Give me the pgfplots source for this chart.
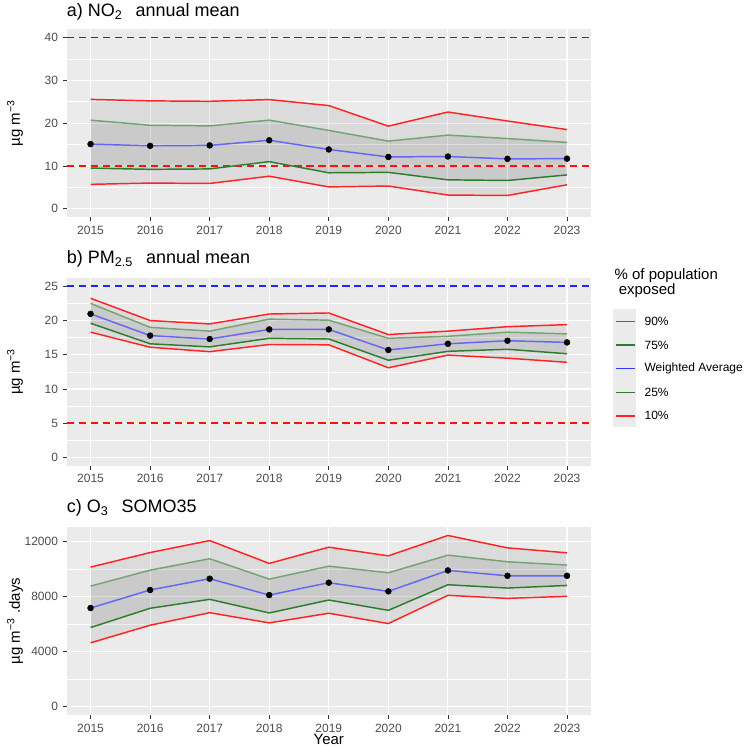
\documentclass[border=0pt]{standalone}
\usepackage{fontspec}
\setmainfont{Liberation Sans}
\usepackage{pgfplots}
\pgfplotsset{compat=1.18}
\usepackage{pgfplotstable}
\usepgfplotslibrary{fillbetween}

\definecolor{gg92}{HTML}{EBEBEB}
\definecolor{tickc}{HTML}{333333}
\definecolor{labc}{HTML}{4D4D4D}
\definecolor{pred}{HTML}{FF2424}
\definecolor{pgreenlt}{HTML}{74A474}
\definecolor{pgreen}{HTML}{2E7D2E}
\definecolor{pblue}{HTML}{6666F4}
\definecolor{keyblue}{HTML}{3A3AFF}
\definecolor{hblue}{HTML}{2323FF}
\definecolor{hred}{HTML}{FF1010}

% percentiles of population exposure: year, 10%, 25%, weighted average, 75%, 90%
\pgfplotstableread{
year p10  p25  wa    p75   p90
2015 5.7  9.5  15.1  20.7  25.55
2016 6.0  9.2  14.7  19.5  25.2
2017 5.9  9.3  14.8  19.35 25.1
2018 7.6  11.0 16.0  20.7  25.5
2019 5.1  8.4  13.85 18.3  24.1
2020 5.3  8.5  12.1  15.8  19.3
2021 3.2  6.75 12.2  17.2  22.6
2022 3.1  6.6  11.65 16.4  20.5
2023 5.6  7.9  11.7  15.5  18.5
}\NOtwo

\pgfplotstableread{
year p10   p25   wa    p75   p90
2015 18.3  19.6  20.97 22.5  23.25
2016 16.1  16.6  17.8  19.0  20.0
2017 15.45 16.15 17.3  18.45 19.5
2018 16.5  17.4  18.7  20.2  20.95
2019 16.45 17.3  18.7  20.05 21.1
2020 13.1  14.2  15.7  17.4  17.95
2021 14.95 15.5  16.6  17.7  18.45
2022 14.5  15.8  17.05 18.3  19.1
2023 13.9  15.15 16.8  18.05 19.4
}\PMtwofive

\pgfplotstableread{
year p10  p25  wa   p75   p90
2015 4640 5750 7170 8760  10140
2016 5920 7150 8480 9920  11200
2017 6830 7800 9300 10750 12070
2018 6090 6810 8110 9270  10410
2019 6790 7750 9010 10210 11590
2020 6040 7000 8380 9730  10960
2021 8090 8860 9900 11010 12440
2022 7870 8620 9510 10530 11540
2023 8020 8810 9510 10290 11180
}\Othree

\pgfplotsset{
  ggpanel/.style={
    scale only axis, width=393.5pt, height=141.4pt,
    anchor=north west,
    xmin=2014.6, xmax=2023.4,
    xtick={2015,2016,...,2023},
    minor x tick num=1, minor y tick num=1,
    grid=both,
    major grid style={white, line width=0.8pt},
    minor grid style={white, line width=0.4pt},
    axis background/.style={fill=gg92},
    axis line style={draw=none},
    tick align=outside, xtick pos=left, ytick pos=left,
    major tick length=2.8pt, minor tick length=0pt,
    every tick/.style={color=tickc, line width=0.6pt},
    tick label style={font=\fontsize{9}{10}\selectfont, color=labc, inner sep=0pt},
    xticklabel style={yshift=-3.35pt},
    yticklabel style={xshift=-3.6pt},
    scaled y ticks=false,
    /pgf/number format/1000 sep={},
    /pgf/number format/assume math mode=true,
    ylabel style={at={(axis description cs:-0.0987,0.5)}, anchor=center,
      font=\fontsize{11.25}{13}\selectfont},
  },
  pline/.style={line width=1.1pt},
  hline/.style={line width=1.3pt, dash pattern=on 5.3pt off 3.7pt},
}

\begin{document}
\begin{tikzpicture}
\path (0,0) rectangle (558pt,-561.75pt);

% a) NO2
\begin{axis}[ggpanel, at={(50.1pt,-21.75pt)},
  ymin=-2, ymax=42, ytick={0,10,20,30,40},
  ylabel={µg m\textsuperscript{−3}}]
  \addplot[hline, draw=hred] coordinates {(2014.6,10) (2023.4,10)};
  \addplot[hline, draw=hblue] coordinates {(2014.6,40) (2023.4,40)};
  \addplot[draw=none, name path=a90] table[x=year,y=p90]{\NOtwo};
  \addplot[draw=none, name path=a75] table[x=year,y=p75]{\NOtwo};
  \addplot[draw=none, name path=a25] table[x=year,y=p25]{\NOtwo};
  \addplot[draw=none, name path=a10] table[x=year,y=p10]{\NOtwo};
  \addplot[fill=black, fill opacity=0.065, draw=none] fill between[of=a90 and a10];
  \addplot[fill=black, fill opacity=0.075, draw=none] fill between[of=a75 and a25];
  \addplot[pline, draw=pred] table[x=year,y=p90]{\NOtwo};
  \addplot[pline, draw=pgreenlt] table[x=year,y=p75]{\NOtwo};
  \addplot[pline, draw=pgreen] table[x=year,y=p25]{\NOtwo};
  \addplot[pline, draw=pred] table[x=year,y=p10]{\NOtwo};
  \addplot[pline, draw=pblue] table[x=year,y=wa]{\NOtwo};
  \addplot[only marks, mark=*, mark size=2.2pt, black] table[x=year,y=wa]{\NOtwo};
\end{axis}

% b) PM2.5
\begin{axis}[ggpanel, at={(50.1pt,-208.5pt)},
  ymin=-1.25, ymax=26.25, ytick={0,5,10,15,20,25},
  ylabel={µg m\textsuperscript{−3}}]
  \addplot[hline, draw=hred] coordinates {(2014.6,5) (2023.4,5)};
  \addplot[hline, draw=hblue] coordinates {(2014.6,25) (2023.4,25)};
  \addplot[draw=none, name path=b90] table[x=year,y=p90]{\PMtwofive};
  \addplot[draw=none, name path=b75] table[x=year,y=p75]{\PMtwofive};
  \addplot[draw=none, name path=b25] table[x=year,y=p25]{\PMtwofive};
  \addplot[draw=none, name path=b10] table[x=year,y=p10]{\PMtwofive};
  \addplot[fill=black, fill opacity=0.065, draw=none] fill between[of=b90 and b10];
  \addplot[fill=black, fill opacity=0.075, draw=none] fill between[of=b75 and b25];
  \addplot[pline, draw=pred] table[x=year,y=p90]{\PMtwofive};
  \addplot[pline, draw=pgreenlt] table[x=year,y=p75]{\PMtwofive};
  \addplot[pline, draw=pgreen] table[x=year,y=p25]{\PMtwofive};
  \addplot[pline, draw=pred] table[x=year,y=p10]{\PMtwofive};
  \addplot[pline, draw=pblue] table[x=year,y=wa]{\PMtwofive};
  \addplot[only marks, mark=*, mark size=2.2pt, black] table[x=year,y=wa]{\PMtwofive};
\end{axis}

% c) O3 SOMO35
\begin{axis}[ggpanel, at={(50.1pt,-395.6pt)},
  ymin=-622, ymax=13062, ytick={0,4000,8000,12000},
  ylabel={µg m\textsuperscript{−3} .days},
  xlabel={Year},
  xlabel style={at={(axis description cs:0.5,0)}, anchor=base, yshift=-21.9pt,
    font=\fontsize{11.25}{13}\selectfont}]
  \addplot[draw=none, name path=c90] table[x=year,y=p90]{\Othree};
  \addplot[draw=none, name path=c75] table[x=year,y=p75]{\Othree};
  \addplot[draw=none, name path=c25] table[x=year,y=p25]{\Othree};
  \addplot[draw=none, name path=c10] table[x=year,y=p10]{\Othree};
  \addplot[fill=black, fill opacity=0.065, draw=none] fill between[of=c90 and c10];
  \addplot[fill=black, fill opacity=0.075, draw=none] fill between[of=c75 and c25];
  \addplot[pline, draw=pred] table[x=year,y=p90]{\Othree};
  \addplot[pline, draw=pgreenlt] table[x=year,y=p75]{\Othree};
  \addplot[pline, draw=pgreen] table[x=year,y=p25]{\Othree};
  \addplot[pline, draw=pred] table[x=year,y=p10]{\Othree};
  \addplot[pline, draw=pblue] table[x=year,y=wa]{\Othree};
  \addplot[only marks, mark=*, mark size=2.2pt, black] table[x=year,y=wa]{\Othree};
\end{axis}

% legend keys, then panel titles and legend text, placed in pixel units
\begin{scope}[x=0.75pt, y=-0.75pt, line width=1.1pt]
  \fill[gg92] (614,309) rectangle (637,427);
  \draw[draw=pgreen]  (616.7,345.3) -- (635.7,345.3);
  \draw[draw=pred]    (616.7,321.7) -- (635.7,321.7);
  \draw[draw=keyblue] (616.7,369.0) -- (635.7,369.0);
  \draw[draw=pgreen]  (616.7,392.7) -- (635.7,392.7);
  \draw[draw=pred]    (616.7,416.3) -- (635.7,416.3);
\end{scope}

\begin{scope}[x=0.75pt, y=-0.75pt, font=\fontsize{13.5}{16}\selectfont]
  \node[anchor=base west, inner sep=0pt] at (66.8,17) {a) NO\textsubscript{2}\hspace{0.45em} annual mean};
  \node[anchor=base west, inner sep=0pt] at (66.8,264) {b) PM\textsubscript{2.5}\hspace{0.45em} annual mean};
  \node[anchor=base west, inner sep=0pt] at (66.8,512.7) {c) O\textsubscript{3}\hspace{0.45em} SOMO35};
  \begin{scope}[font=\fontsize{11.25}{13}\selectfont]
    \node[anchor=base west, inner sep=0pt] at (615,279.7) {\% of population};
    \node[anchor=base west, inner sep=0pt] at (615,295.3) {\ exposed};
  \end{scope}
  \begin{scope}[font=\fontsize{9}{10}\selectfont]
    \node[anchor=west, inner sep=0pt] at (645,321.7) {90\%};
    \node[anchor=west, inner sep=0pt] at (645,345.3) {75\%};
    \node[anchor=west, inner sep=0pt] at (645,369.0) {Weighted Average};
    \node[anchor=west, inner sep=0pt] at (645,392.7) {25\%};
    \node[anchor=west, inner sep=0pt] at (645,416.3) {10\%};
  \end{scope}
\end{scope}
\end{tikzpicture}
\end{document}
